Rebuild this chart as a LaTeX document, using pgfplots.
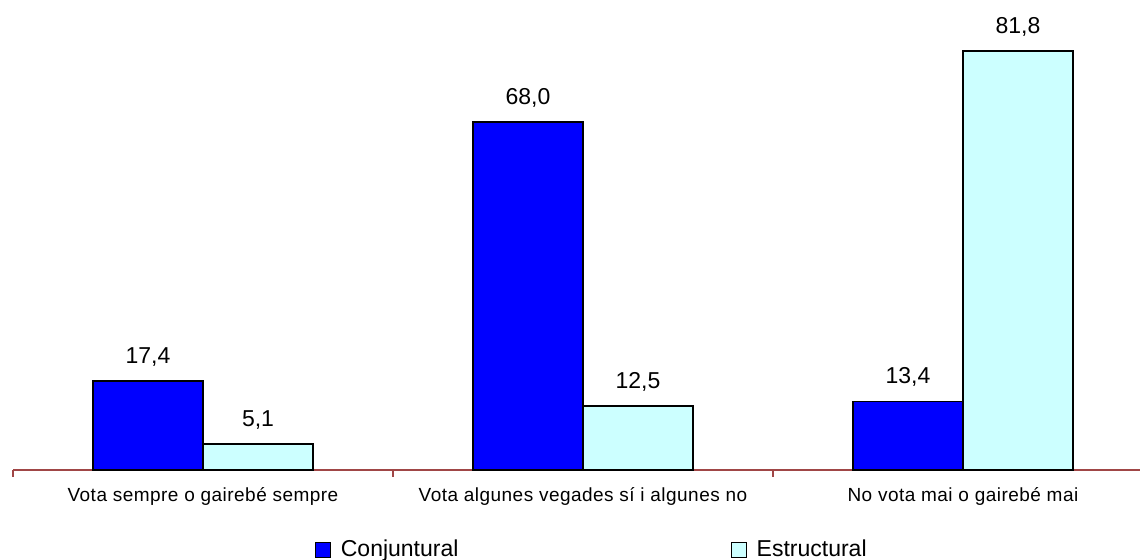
\documentclass[border=0pt]{standalone}
\usepackage{fontspec}
\setmainfont{Liberation Sans}
\usepackage{pgfplots}
\pgfplotsset{compat=1.18}

\definecolor{axred}{RGB}{160,70,70}
\definecolor{conj}{RGB}{0,0,255}
\definecolor{estr}{RGB}{204,255,255}

\begin{document}
\begin{tikzpicture}
\useasboundingbox (-6.5pt,-45pt) rectangle (563.5pt,235pt);
\begin{axis}[
  scale only axis,
  width=563.5pt, height=235pt,
  xmin=-0.5, xmax=2.466, ymin=0, ymax=91.8,
  axis x line=bottom, axis y line=none,
  axis line style={axred,line width=0.6pt,-},
  ybar=0pt, bar width=55pt,
  xtick={0,1,2},
  xticklabels={Vota sempre o gairebé sempre,Vota algunes vegades sí i algunes no,No vota mai o gairebé mai},
  major tick length=0pt,
  minor xtick={-0.5,0.5,1.5},
  minor tick length=3.5pt,
  tick align=outside,
  minor tick style={axred,line width=0.6pt},
  xticklabel style={font=\fontsize{9.5}{11}\selectfont\addfontfeature{LetterSpace=2.5}, yshift=-5pt},
  /pgf/number format/assume math mode=true,
  nodes near coords,
  nodes near coords style={font=\fontsize{11.5}{13}\selectfont, anchor=center, yshift=12pt,
    /pgf/number format/.cd, fixed, fixed zerofill, precision=1, use comma},
  clip=false,
  legend columns=2,
  legend style={draw=none, fill=none, anchor=west, at={(axis description cs:0.262,-0.170)},
    font=\fontsize{11.5}{13}\selectfont,
    /tikz/every odd column/.append style={column sep=3pt},
    /tikz/every even column/.append style={column sep=134pt}},
  legend image code/.code={\draw[#1,line width=0.6pt] (0pt,-3.75pt) rectangle (7.5pt,3.75pt);},
]
\addplot[fill=conj, draw=black, line width=0.8pt] coordinates {(0,17.4) (1,68.0) (2,13.4)};
\addplot[fill=estr, draw=black, line width=0.8pt] coordinates {(0,5.1) (1,12.5) (2,81.8)};
\legend{Conjuntural,Estructural}
\end{axis}
\end{tikzpicture}
\end{document}
